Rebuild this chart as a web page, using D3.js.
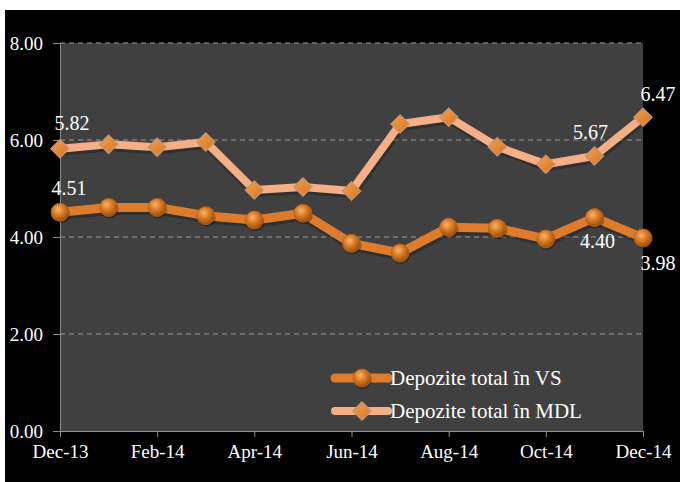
<!DOCTYPE html>
<html><head><meta charset="utf-8">
<script src="https://cdn.jsdelivr.net/npm/d3@7/dist/d3.min.js"></script>
<style>body{margin:0;background:#fff;}svg{display:block;}</style>
</head><body>
<svg id="c" width="680" height="482" font-family="Liberation Serif"></svg>
<script>
const months = ["Dec-13","Jan-14","Feb-14","Mar-14","Apr-14","May-14","Jun-14","Jul-14","Aug-14","Sep-14","Oct-14","Nov-14","Dec-14"];
const tickLabels = ["Dec-13","Feb-14","Apr-14","Jun-14","Aug-14","Oct-14","Dec-14"];
const yTicks = [0,2,4,6,8];
const seriesVS = [4.51,4.61,4.61,4.44,4.35,4.49,3.87,3.67,4.20,4.18,3.96,4.40,3.98];
const seriesMDL = [5.82,5.91,5.85,5.96,4.97,5.03,4.95,6.33,6.47,5.86,5.50,5.67,6.47];
const names = ["Depozite total în VS","Depozite total în MDL"];

const FONT = "Liberation Serif";
const svg = d3.select("#c");
svg.append("rect").attr("x",5).attr("y",10).attr("width",675).attr("height",472).attr("fill","#000");

const L=60,R=643,T=43,B=431;
const x = d3.scalePoint().domain(months).range([L,R]);
const y = d3.scaleLinear().domain([0,8]).range([B,T]);

const defs = svg.append("defs");
const g1 = defs.append("radialGradient").attr("id","ball").attr("cx","40%").attr("cy","35%").attr("r","65%");
g1.append("stop").attr("offset","0%").attr("stop-color","#F6B56E");
g1.append("stop").attr("offset","45%").attr("stop-color","#DE7D26");
g1.append("stop").attr("offset","100%").attr("stop-color","#9A4E0E");
const g2 = defs.append("linearGradient").attr("id","dia").attr("x1","0").attr("y1","0").attr("x2","1").attr("y2","1");
g2.append("stop").attr("offset","0%").attr("stop-color","#F2A050");
g2.append("stop").attr("offset","100%").attr("stop-color","#D8741E");

svg.append("rect").attr("x",L).attr("y",T).attr("width",R-L).attr("height",B-T).attr("fill","#404040");

svg.append("g").selectAll("line").data(yTicks.filter(d=>d>0)).join("line")
  .attr("x1",L).attr("x2",R).attr("y1",d=>y(d)).attr("y2",d=>y(d))
  .attr("stroke","#9a9a9a").attr("stroke-width",1).attr("stroke-dasharray","5,4");

const yAxis = d3.axisLeft(y).tickValues(yTicks).tickFormat(d3.format(".2f")).tickSize(7).tickPadding(10);
const ya = svg.append("g").attr("transform",`translate(${L},0)`).call(yAxis);
ya.attr("font-family",FONT).attr("font-size",19);
ya.select(".domain").attr("stroke","#8c8c8c");
ya.selectAll(".tick line").attr("stroke","#8c8c8c");
ya.selectAll("text").attr("fill","#fff").attr("font-family",FONT).attr("font-size",19).attr("dy","0.32em");

const xAxis = d3.axisBottom(x).tickValues(tickLabels).tickSize(6).tickPadding(8);
const xa = svg.append("g").attr("transform",`translate(0,${B})`).call(xAxis);
xa.attr("font-family",FONT).attr("font-size",19);
xa.select(".domain").attr("stroke","#8c8c8c");
xa.selectAll(".tick line").attr("stroke","#8c8c8c");
xa.selectAll("text").attr("fill","#fff").attr("font-family",FONT).attr("font-size",19);

const line = d3.line().x((d,i)=>x(months[i])).y(d=>y(d));

function drawSeries(data,color,w,marker){
  svg.append("path").datum(data).attr("d",line).attr("fill","none")
    .attr("stroke","#000").attr("stroke-opacity",0.25).attr("stroke-width",w+2).attr("transform","translate(1,2)").attr("stroke-linejoin","round");
  svg.append("path").datum(data).attr("d",line).attr("fill","none")
    .attr("stroke",color).attr("stroke-width",w).attr("stroke-linejoin","round");
  const gm = svg.append("g");
  data.forEach((d,i)=>marker(gm,x(months[i]),y(d)));
}
function ball(g,cx,cy){
  g.append("circle").attr("cx",cx+1).attr("cy",cy+2).attr("r",9).attr("fill","#000").attr("opacity",0.3);
  g.append("circle").attr("cx",cx).attr("cy",cy).attr("r",9).attr("fill","url(#ball)").attr("stroke","#B8651C").attr("stroke-width",0.8);
}
function diamond(g,cx,cy){
  const s=9;
  g.append("path").attr("d",`M${cx},${cy-s}L${cx+s},${cy}L${cx},${cy+s}L${cx-s},${cy}Z`)
    .attr("fill","url(#dia)").attr("stroke","#C9936E").attr("stroke-width",1.5);
}
drawSeries(seriesMDL,"#F4AF86",8,diamond);
drawSeries(seriesVS,"#DE7C2E",9,ball);

const labels = [
  {s:seriesMDL,i:0,dx:12,dy:-19},
  {s:seriesVS,i:0,dx:9,dy:-17},
  {s:seriesMDL,i:12,dx:15,dy:-16},
  {s:seriesMDL,i:11,dx:-4,dy:-17},
  {s:seriesVS,i:11,dx:3,dy:30},
  {s:seriesVS,i:12,dx:15,dy:32}
];
svg.append("g").selectAll("text").data(labels).join("text")
  .attr("x",d=>x(months[d.i])+d.dx).attr("y",d=>y(d.s[d.i])+d.dy)
  .attr("text-anchor","middle").attr("fill","#fff").attr("font-family",FONT).attr("font-size",20)
  .text(d=>d3.format(".2f")(d.s[d.i]));

const lg = svg.append("g");
const legendItems = [{n:names[0],c:"#DE7C2E",m:ball,w:9},{n:names[1],c:"#F4AF86",m:diamond,w:8}];
legendItems.forEach((it,k)=>{
  const ly = 378 + k*33;
  lg.append("line").attr("x1",335).attr("x2",388).attr("y1",ly).attr("y2",ly).attr("stroke",it.c).attr("stroke-width",it.w).attr("stroke-linecap","round");
  it.m(lg,362,ly);
  lg.append("text").attr("x",390).attr("y",ly+7).attr("fill","#fff").attr("font-family",FONT).attr("font-size",21).text(it.n);
});
</script>
</body></html>
